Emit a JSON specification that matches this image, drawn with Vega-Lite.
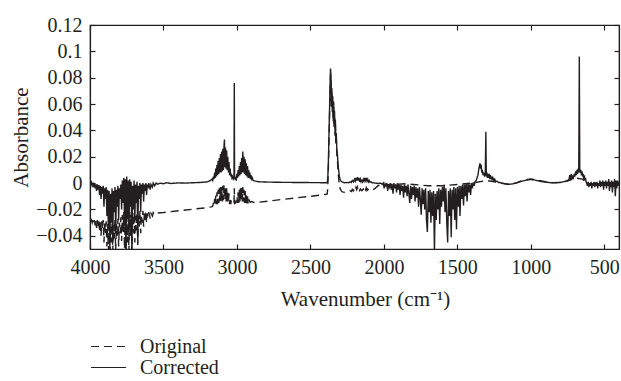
{
  "$schema": "https://vega.github.io/schema/vega-lite/v6.json",
  "width": 529,
  "height": 224,
  "autosize": {"type": "none"},
  "padding": {"left": 90, "top": 25, "right": 2, "bottom": 132},
  "background": "white",
  "config": {
    "font": "Liberation Serif",
    "view": {"stroke": "#231f20", "strokeWidth": 1.2},
    "axis": {
      "grid": false,
      "domainColor": "#231f20",
      "domainWidth": 1.2,
      "tickColor": "#231f20",
      "tickWidth": 1.2,
      "tickSize": -5,
      "labelColor": "#231f20",
      "titleColor": "#231f20",
      "labelFont": "Liberation Serif",
      "titleFont": "Liberation Serif",
      "labelFontSize": 20,
      "titleFontSize": 21,
      "titleFontWeight": "normal",
      "labelPadding": 13,
      "labelFlush": false,
      "labelOverlap": false
    }
  },
  "datasets": {
    "orig": [
      {"w":4000,"a":-0.0285},{"w":3995,"a":-0.029},{"w":3990,"a":-0.028},{"w":3985,"a":-0.03},{"w":3980,"a":-0.0282},{"w":3975,"a":-0.031},{"w":3970,"a":-0.028},{"w":3965,"a":-0.032},{"w":3960,"a":-0.0285},{"w":3955,"a":-0.034},{"w":3950,"a":-0.028},{"w":3945,"a":-0.033},{"w":3940,"a":-0.029},{"w":3935,"a":-0.037},{"w":3930,"a":-0.028},{"w":3925,"a":-0.04},{"w":3920,"a":-0.029},{"w":3915,"a":-0.035},{"w":3910,"a":-0.028},{"w":3905,"a":-0.045},{"w":3900,"a":-0.03},{"w":3895,"a":-0.038},{"w":3890,"a":-0.029},{"w":3885,"a":-0.048},{"w":3880,"a":-0.031},{"w":3875,"a":-0.052},{"w":3870,"a":-0.032},{"w":3865,"a":-0.052},{"w":3860,"a":-0.033},{"w":3855,"a":-0.045},{"w":3850,"a":-0.03},{"w":3845,"a":-0.052},{"w":3840,"a":-0.032},{"w":3835,"a":-0.042},{"w":3830,"a":-0.028},{"w":3825,"a":-0.052},{"w":3820,"a":-0.031},{"w":3815,"a":-0.04},{"w":3810,"a":-0.027},{"w":3805,"a":-0.048},{"w":3800,"a":-0.03},{"w":3795,"a":-0.038},{"w":3790,"a":-0.026},{"w":3785,"a":-0.044},{"w":3780,"a":-0.024},{"w":3775,"a":-0.037},{"w":3770,"a":-0.022},{"w":3765,"a":-0.05},{"w":3760,"a":-0.023},{"w":3755,"a":-0.052},{"w":3750,"a":-0.021},{"w":3745,"a":-0.045},{"w":3740,"a":-0.024},{"w":3735,"a":-0.052},{"w":3730,"a":-0.022},{"w":3725,"a":-0.04},{"w":3720,"a":-0.024},{"w":3715,"a":-0.052},{"w":3710,"a":-0.026},{"w":3705,"a":-0.038},{"w":3700,"a":-0.022},{"w":3695,"a":-0.045},{"w":3690,"a":-0.025},{"w":3685,"a":-0.036},{"w":3680,"a":-0.022},{"w":3675,"a":-0.047},{"w":3670,"a":-0.025},{"w":3665,"a":-0.033},{"w":3660,"a":-0.021},{"w":3655,"a":-0.038},{"w":3650,"a":-0.024},{"w":3645,"a":-0.03},{"w":3640,"a":-0.021},{"w":3635,"a":-0.033},{"w":3630,"a":-0.023},{"w":3625,"a":-0.028},{"w":3620,"a":-0.021},{"w":3615,"a":-0.03},{"w":3610,"a":-0.023},{"w":3605,"a":-0.026},{"w":3600,"a":-0.022},{"w":3590,"a":-0.027},{"w":3585,"a":-0.023},{"w":3575,"a":-0.025},{"w":3570,"a":-0.0225},{"w":3560,"a":-0.024},{"w":3550,"a":-0.0228},
      {"w":3500,"a":-0.0223},{"w":3400,"a":-0.021},{"w":3300,"a":-0.0198},{"w":3200,"a":-0.0186},
      {"w":3190,"a":-0.0183},{"w":3175,"a":-0.018},{"w":3165,"a":-0.0175},{"w":3160,"a":-0.015},{"w":3156,"a":-0.0175},{"w":3152,"a":-0.012},{"w":3148,"a":-0.017},{"w":3144,"a":-0.009},{"w":3140,"a":-0.016},{"w":3136,"a":-0.007},{"w":3132,"a":-0.016},{"w":3128,"a":-0.005},{"w":3124,"a":-0.015},{"w":3120,"a":-0.004},{"w":3116,"a":-0.014},{"w":3112,"a":-0.003},{"w":3108,"a":-0.015},{"w":3104,"a":-0.003},{"w":3100,"a":-0.014},{"w":3096,"a":-0.002},{"w":3092,"a":-0.013},{"w":3088,"a":-0.002},{"w":3085,"a":-0.001},{"w":3082,"a":-0.013},{"w":3078,"a":-0.003},{"w":3074,"a":-0.014},{"w":3070,"a":-0.004},{"w":3066,"a":-0.014},{"w":3062,"a":-0.006},{"w":3058,"a":-0.015},{"w":3054,"a":-0.008},{"w":3050,"a":-0.016},{"w":3046,"a":-0.011},{"w":3042,"a":-0.016},{"w":3038,"a":-0.013},{"w":3030,"a":-0.0155},{"w":3020,"a":-0.015},{"w":3018,"a":-0.004},{"w":3016,"a":-0.0155},{"w":3008,"a":-0.015},{"w":3000,"a":-0.01},{"w":2996,"a":-0.015},{"w":2992,"a":-0.007},{"w":2988,"a":-0.015},{"w":2984,"a":-0.005},{"w":2980,"a":-0.014},{"w":2976,"a":-0.004},{"w":2972,"a":-0.013},{"w":2968,"a":-0.003},{"w":2964,"a":-0.014},{"w":2960,"a":-0.003},{"w":2956,"a":-0.014},{"w":2952,"a":-0.005},{"w":2948,"a":-0.015},{"w":2944,"a":-0.006},{"w":2940,"a":-0.015},{"w":2936,"a":-0.008},{"w":2932,"a":-0.0155},{"w":2928,"a":-0.01},{"w":2924,"a":-0.0155},{"w":2920,"a":-0.012},{"w":2910,"a":-0.0145},{"w":2900,"a":-0.014},{"w":2880,"a":-0.0148},
      {"w":2850,"a":-0.0145},{"w":2700,"a":-0.0125},{"w":2500,"a":-0.01},{"w":2390,"a":-0.0085},
      {"w":2386,"a":-0.0083},{"w":2382,"a":-0.004},{"w":2378,"a":0.01},{"w":2374,"a":0.03},{"w":2370,"a":0.05},{"w":2366,"a":0.07},{"w":2363,"a":0.083},{"w":2360,"a":0.077},{"w":2357,"a":0.058},{"w":2354,"a":0.068},{"w":2351,"a":0.054},{"w":2348,"a":0.062},{"w":2345,"a":0.046},{"w":2342,"a":0.058},{"w":2339,"a":0.041},{"w":2336,"a":0.051},{"w":2333,"a":0.036},{"w":2330,"a":0.044},{"w":2327,"a":0.029},{"w":2324,"a":0.034},{"w":2320,"a":0.021},{"w":2316,"a":0.017},{"w":2312,"a":0.009},{"w":2308,"a":0.004},{"w":2303,"a":-0.002},{"w":2298,"a":-0.004},{"w":2292,"a":-0.0055},{"w":2285,"a":-0.0065},{"w":2275,"a":-0.0068},
      {"w":2265,"a":-0.007},{"w":2250,"a":-0.0068},{"w":2240,"a":-0.0066},{"w":2230,"a":-0.0058},{"w":2222,"a":-0.0064},{"w":2215,"a":-0.0048},{"w":2208,"a":-0.006},{"w":2200,"a":-0.004},{"w":2195,"a":-0.0055},{"w":2190,"a":-0.0033},{"w":2185,"a":-0.005},{"w":2180,"a":-0.003},{"w":2175,"a":-0.005},{"w":2170,"a":-0.0035},{"w":2165,"a":-0.0055},{"w":2160,"a":-0.0045},{"w":2150,"a":-0.0058},{"w":2140,"a":-0.0045},{"w":2135,"a":-0.0055},{"w":2130,"a":-0.0035},{"w":2125,"a":-0.005},{"w":2120,"a":-0.0035},{"w":2115,"a":-0.0055},{"w":2110,"a":-0.0045},{"w":2100,"a":-0.0058},{"w":2090,"a":-0.0058},{"w":2080,"a":-0.0055},{"w":2060,"a":-0.004},{"w":2040,"a":-0.002},{"w":2020,"a":-0.0015},{"w":2000,"a":-0.0015},{"w":1950,"a":-0.001},{"w":1900,"a":-0.0008},{"w":1850,"a":-0.0005},
      {"w":1800,"a":-0.001},{"w":1700,"a":-0.002},{"w":1600,"a":-0.002},{"w":1500,"a":-0.001},{"w":1400,"a":0},{"w":1300,"a":0.002},{"w":1200,"a":0},{"w":1150,"a":-0.0008},{"w":1100,"a":0.0002},{"w":1050,"a":0.0022},{"w":1000,"a":0.0032},{"w":950,"a":0.0022},{"w":900,"a":0.001},{"w":850,"a":0.0004},{"w":800,"a":0.0006},{"w":750,"a":0.0015},{"w":700,"a":0.004},{"w":650,"a":0.003},{"w":600,"a":-0.001},{"w":550,"a":-0.001},{"w":500,"a":-0.001},{"w":450,"a":-0.001},{"w":400,"a":0}
    ],
    "corr": [
      {"w":4000,"a":0},{"w":3995,"a":-0.001},{"w":3990,"a":0.0005},{"w":3985,"a":-0.002},{"w":3980,"a":-0.0005},{"w":3975,"a":-0.003},{"w":3970,"a":0},{"w":3965,"a":-0.004},{"w":3960,"a":-0.001},{"w":3955,"a":-0.006},{"w":3950,"a":-0.001},{"w":3945,"a":-0.005},{"w":3940,"a":-0.0015},{"w":3935,"a":-0.009},{"w":3930,"a":-0.002},{"w":3925,"a":-0.012},{"w":3920,"a":-0.003},{"w":3915,"a":-0.008},{"w":3910,"a":-0.002},{"w":3905,"a":-0.018},{"w":3900,"a":-0.004},{"w":3895,"a":-0.012},{"w":3890,"a":-0.003},{"w":3885,"a":-0.025},{"w":3880,"a":-0.005},{"w":3875,"a":-0.035},{"w":3870,"a":-0.006},{"w":3865,"a":-0.052},{"w":3860,"a":-0.008},{"w":3855,"a":-0.03},{"w":3850,"a":-0.004},{"w":3845,"a":-0.045},{"w":3840,"a":-0.006},{"w":3835,"a":-0.022},{"w":3830,"a":-0.003},{"w":3825,"a":-0.038},{"w":3820,"a":-0.005},{"w":3815,"a":-0.018},{"w":3810,"a":-0.002},{"w":3805,"a":-0.028},{"w":3800,"a":-0.004},{"w":3795,"a":-0.012},{"w":3790,"a":-0.001},{"w":3785,"a":-0.02},{"w":3780,"a":0.002},{"w":3775,"a":-0.015},{"w":3770,"a":0.004},{"w":3765,"a":-0.032},{"w":3760,"a":0.003},{"w":3755,"a":-0.052},{"w":3750,"a":0.005},{"w":3745,"a":-0.025},{"w":3740,"a":0.002},{"w":3735,"a":-0.04},{"w":3730,"a":0.003},{"w":3725,"a":-0.018},{"w":3720,"a":0.001},{"w":3715,"a":-0.052},{"w":3710,"a":-0.002},{"w":3705,"a":-0.02},{"w":3700,"a":0.002},{"w":3695,"a":-0.03},{"w":3690,"a":-0.001},{"w":3685,"a":-0.015},{"w":3680,"a":0.001},{"w":3675,"a":-0.045},{"w":3670,"a":-0.002},{"w":3665,"a":-0.012},{"w":3660,"a":0},{"w":3655,"a":-0.022},{"w":3650,"a":-0.001},{"w":3645,"a":-0.008},{"w":3640,"a":0},{"w":3635,"a":-0.014},{"w":3630,"a":-0.001},{"w":3625,"a":-0.006},{"w":3620,"a":0},{"w":3615,"a":-0.009},{"w":3610,"a":-0.001},{"w":3605,"a":-0.004},{"w":3600,"a":0},{"w":3590,"a":-0.005},{"w":3585,"a":-0.001},{"w":3575,"a":-0.003},{"w":3570,"a":0},{"w":3560,"a":-0.002},{"w":3550,"a":0},
      {"w":3540,"a":-0.0008},{"w":3520,"a":0},{"w":3500,"a":-0.0005},{"w":3480,"a":0.0003},{"w":3450,"a":-0.0003},{"w":3400,"a":0.0002},{"w":3350,"a":0},{"w":3300,"a":0.0003},{"w":3250,"a":0.0005},{"w":3200,"a":0.001},
      {"w":3190,"a":0.0015},{"w":3180,"a":0.002},{"w":3170,"a":0.003},{"w":3165,"a":0.002},{"w":3160,"a":0.005},{"w":3156,"a":0.003},{"w":3152,"a":0.008},{"w":3148,"a":0.004},{"w":3144,"a":0.011},{"w":3140,"a":0.005},{"w":3136,"a":0.014},{"w":3132,"a":0.006},{"w":3128,"a":0.017},{"w":3124,"a":0.007},{"w":3120,"a":0.019},{"w":3116,"a":0.008},{"w":3112,"a":0.022},{"w":3108,"a":0.008},{"w":3104,"a":0.024},{"w":3100,"a":0.009},{"w":3096,"a":0.026},{"w":3092,"a":0.01},{"w":3088,"a":0.028},{"w":3085,"a":0.033},{"w":3082,"a":0.012},{"w":3078,"a":0.027},{"w":3074,"a":0.011},{"w":3070,"a":0.025},{"w":3066,"a":0.01},{"w":3062,"a":0.02},{"w":3058,"a":0.008},{"w":3054,"a":0.016},{"w":3050,"a":0.006},{"w":3046,"a":0.011},{"w":3042,"a":0.005},{"w":3038,"a":0.007},{"w":3034,"a":0.004},{"w":3030,"a":0.005},{"w":3025,"a":0.003},{"w":3020,"a":0.004},{"w":3018,"a":0.076},{"w":3016,"a":0.004},{"w":3012,"a":0.003},{"w":3008,"a":0.004},{"w":3004,"a":0.003},{"w":3000,"a":0.007},{"w":2996,"a":0.004},{"w":2992,"a":0.01},{"w":2988,"a":0.005},{"w":2984,"a":0.013},{"w":2980,"a":0.006},{"w":2976,"a":0.016},{"w":2972,"a":0.007},{"w":2968,"a":0.019},{"w":2964,"a":0.008},{"w":2960,"a":0.024},{"w":2956,"a":0.008},{"w":2952,"a":0.02},{"w":2948,"a":0.007},{"w":2944,"a":0.018},{"w":2940,"a":0.006},{"w":2936,"a":0.015},{"w":2932,"a":0.005},{"w":2928,"a":0.013},{"w":2924,"a":0.004},{"w":2920,"a":0.01},{"w":2916,"a":0.004},{"w":2912,"a":0.008},{"w":2908,"a":0.003},{"w":2904,"a":0.006},{"w":2900,"a":0.003},{"w":2895,"a":0.004},{"w":2890,"a":0.002},{"w":2875,"a":0.0015},{"w":2850,"a":0.001},
      {"w":2800,"a":0.0008},{"w":2700,"a":0.0006},{"w":2600,"a":0.0005},{"w":2500,"a":0.0004},{"w":2400,"a":0.0003},{"w":2390,"a":0.0003},
      {"w":2386,"a":0.0005},{"w":2382,"a":0.003},{"w":2378,"a":0.015},{"w":2374,"a":0.035},{"w":2370,"a":0.055},{"w":2366,"a":0.075},{"w":2363,"a":0.087},{"w":2360,"a":0.08},{"w":2357,"a":0.062},{"w":2354,"a":0.072},{"w":2351,"a":0.058},{"w":2348,"a":0.066},{"w":2345,"a":0.05},{"w":2342,"a":0.062},{"w":2339,"a":0.045},{"w":2336,"a":0.055},{"w":2333,"a":0.04},{"w":2330,"a":0.048},{"w":2327,"a":0.033},{"w":2324,"a":0.038},{"w":2320,"a":0.025},{"w":2316,"a":0.022},{"w":2312,"a":0.014},{"w":2308,"a":0.01},{"w":2303,"a":0.005},{"w":2298,"a":0.003},{"w":2292,"a":0.0015},{"w":2285,"a":0.001},{"w":2275,"a":0.0005},
      {"w":2265,"a":0.0003},{"w":2250,"a":0.0005},{"w":2240,"a":0.0003},{"w":2230,"a":0.001},{"w":2222,"a":0.0005},{"w":2215,"a":0.002},{"w":2208,"a":0.001},{"w":2200,"a":0.003},{"w":2195,"a":0.0015},{"w":2190,"a":0.004},{"w":2185,"a":0.002},{"w":2180,"a":0.0045},{"w":2175,"a":0.002},{"w":2170,"a":0.004},{"w":2165,"a":0.001},{"w":2160,"a":0.003},{"w":2155,"a":0.001},{"w":2150,"a":0.002},{"w":2145,"a":0.001},{"w":2140,"a":0.003},{"w":2135,"a":0.0015},{"w":2130,"a":0.004},{"w":2125,"a":0.002},{"w":2120,"a":0.004},{"w":2115,"a":0.0015},{"w":2110,"a":0.003},{"w":2105,"a":0.001},{"w":2100,"a":0.002},{"w":2095,"a":0.0008},{"w":2088,"a":0.001},{"w":2080,"a":0.0003},{"w":2060,"a":0},{"w":2040,"a":-0.0003},{"w":2020,"a":0},
      {"w":2010,"a":-0.001},{"w":2004,"a":0},{"w":1998,"a":-0.004},{"w":1992,"a":-0.0005},{"w":1986,"a":-0.002},{"w":1980,"a":0},{"w":1974,"a":-0.006},{"w":1968,"a":-0.001},{"w":1962,"a":-0.003},{"w":1956,"a":0},{"w":1950,"a":-0.005},{"w":1944,"a":-0.001},{"w":1938,"a":-0.008},{"w":1932,"a":0},{"w":1926,"a":-0.004},{"w":1920,"a":-0.001},{"w":1914,"a":-0.007},{"w":1908,"a":0},{"w":1902,"a":-0.005},{"w":1896,"a":-0.001},{"w":1890,"a":-0.009},{"w":1884,"a":-0.001},{"w":1878,"a":-0.006},{"w":1872,"a":-0.002},{"w":1866,"a":-0.011},{"w":1860,"a":-0.001},{"w":1854,"a":-0.007},{"w":1848,"a":-0.002},{"w":1842,"a":-0.01},{"w":1836,"a":-0.001},{"w":1830,"a":-0.008},{"w":1824,"a":-0.015},{"w":1818,"a":-0.002},{"w":1812,"a":-0.012},{"w":1806,"a":-0.003},{"w":1800,"a":-0.009},{"w":1794,"a":-0.002},{"w":1788,"a":-0.014},{"w":1782,"a":-0.003},{"w":1776,"a":-0.011},{"w":1770,"a":-0.004},{"w":1764,"a":-0.018},{"w":1758,"a":-0.003},{"w":1752,"a":-0.012},{"w":1746,"a":-0.024},{"w":1740,"a":-0.004},{"w":1734,"a":-0.016},{"w":1728,"a":-0.005},{"w":1722,"a":-0.02},{"w":1716,"a":-0.004},{"w":1710,"a":-0.028},{"w":1704,"a":-0.037},{"w":1698,"a":-0.006},{"w":1692,"a":-0.022},{"w":1686,"a":-0.005},{"w":1680,"a":-0.03},{"w":1674,"a":-0.007},{"w":1668,"a":-0.025},{"w":1662,"a":-0.006},{"w":1656,"a":-0.052},{"w":1650,"a":-0.008},{"w":1644,"a":-0.028},{"w":1638,"a":-0.006},{"w":1632,"a":-0.02},{"w":1626,"a":-0.004},{"w":1620,"a":-0.031},{"w":1614,"a":-0.005},{"w":1608,"a":-0.018},{"w":1602,"a":-0.003},{"w":1596,"a":-0.014},{"w":1590,"a":-0.001},{"w":1584,"a":-0.022},{"w":1578,"a":-0.004},{"w":1572,"a":-0.03},{"w":1566,"a":-0.045},{"w":1560,"a":-0.006},{"w":1554,"a":-0.025},{"w":1548,"a":-0.004},{"w":1542,"a":-0.041},{"w":1536,"a":-0.005},{"w":1530,"a":-0.02},{"w":1524,"a":-0.003},{"w":1518,"a":-0.028},{"w":1512,"a":-0.004},{"w":1506,"a":-0.035},{"w":1500,"a":-0.003},{"w":1494,"a":-0.018},{"w":1488,"a":-0.002},{"w":1482,"a":-0.025},{"w":1476,"a":-0.002},{"w":1470,"a":-0.012},{"w":1464,"a":-0.001},{"w":1458,"a":-0.017},{"w":1452,"a":-0.001},{"w":1446,"a":-0.01},{"w":1440,"a":0},{"w":1434,"a":-0.014},{"w":1428,"a":0},{"w":1422,"a":-0.007},{"w":1416,"a":-0.001},{"w":1410,"a":-0.009},{"w":1404,"a":0},{"w":1398,"a":-0.004},{"w":1392,"a":0.0005},{"w":1386,"a":-0.002},
      {"w":1380,"a":0.001},{"w":1372,"a":0.002},{"w":1366,"a":0.004},{"w":1360,"a":0.006},{"w":1355,"a":0.01},{"w":1350,"a":0.013},{"w":1346,"a":0.015},{"w":1342,"a":0.011},{"w":1338,"a":0.014},{"w":1334,"a":0.008},{"w":1330,"a":0.01},{"w":1325,"a":0.006},{"w":1320,"a":0.008},{"w":1315,"a":0.005},{"w":1310,"a":0.007},{"w":1306,"a":0.039},{"w":1303,"a":0.005},{"w":1299,"a":0.008},{"w":1295,"a":0.004},{"w":1291,"a":0.007},{"w":1287,"a":0.004},{"w":1283,"a":0.007},{"w":1279,"a":0.003},{"w":1275,"a":0.006},{"w":1271,"a":0.003},{"w":1267,"a":0.005},{"w":1263,"a":0.002},{"w":1258,"a":0.004},{"w":1252,"a":0.002},{"w":1246,"a":0.003},{"w":1240,"a":0.001},{"w":1230,"a":0.0015},{"w":1220,"a":0.0005},{"w":1210,"a":0.0005},{"w":1200,"a":0},
      {"w":1180,"a":-0.0005},{"w":1160,"a":-0.001},{"w":1140,"a":-0.0008},{"w":1120,"a":-0.0005},{"w":1100,"a":0},{"w":1080,"a":0.0008},{"w":1060,"a":0.0015},{"w":1040,"a":0.002},{"w":1020,"a":0.0025},{"w":1000,"a":0.0027},{"w":980,"a":0.0025},{"w":960,"a":0.002},{"w":940,"a":0.0015},{"w":920,"a":0.001},{"w":900,"a":0.0008},{"w":880,"a":0.0005},{"w":860,"a":0.0003},{"w":840,"a":0.0002},{"w":820,"a":0.0003},{"w":800,"a":0.0005},{"w":780,"a":0.001},{"w":760,"a":0.0015},
      {"w":750,"a":0.002},{"w":740,"a":0.003},{"w":735,"a":0.006},{"w":730,"a":0.002},{"w":725,"a":0.007},{"w":720,"a":0.003},{"w":715,"a":0.005},{"w":710,"a":0.004},{"w":705,"a":0.007},{"w":700,"a":0.005},{"w":695,"a":0.009},{"w":690,"a":0.006},{"w":686,"a":0.01},{"w":682,"a":0.007},{"w":678,"a":0.011},{"w":674,"a":0.008},{"w":670,"a":0.096},{"w":667,"a":0.011},{"w":664,"a":0.008},{"w":660,"a":0.01},{"w":656,"a":0.006},{"w":652,"a":0.009},{"w":648,"a":0.005},{"w":644,"a":0.007},{"w":640,"a":0.003},{"w":636,"a":0.006},{"w":632,"a":0.002},{"w":628,"a":0.004},{"w":624,"a":0.001},{"w":620,"a":0},
      {"w":615,"a":-0.002},{"w":610,"a":0.001},{"w":605,"a":-0.003},{"w":600,"a":0},{"w":595,"a":-0.002},{"w":590,"a":0.001},{"w":585,"a":-0.004},{"w":580,"a":0},{"w":575,"a":-0.002},{"w":570,"a":0.001},{"w":565,"a":-0.003},{"w":560,"a":0.0005},{"w":555,"a":-0.002},{"w":550,"a":0.001},{"w":545,"a":-0.004},{"w":540,"a":0},{"w":535,"a":-0.002},{"w":530,"a":0.002},{"w":525,"a":-0.003},{"w":520,"a":0.001},{"w":515,"a":-0.002},{"w":510,"a":0.002},{"w":505,"a":-0.005},{"w":500,"a":0.001},{"w":495,"a":-0.002},{"w":490,"a":0.002},{"w":485,"a":-0.004},{"w":480,"a":0.001},{"w":475,"a":-0.002},{"w":470,"a":0.003},{"w":465,"a":-0.006},{"w":460,"a":0.001},{"w":455,"a":-0.003},{"w":450,"a":0.002},{"w":445,"a":-0.007},{"w":440,"a":0.001},{"w":435,"a":-0.003},{"w":430,"a":0.003},{"w":425,"a":-0.01},{"w":420,"a":0.002},{"w":415,"a":-0.004},{"w":410,"a":0.002},{"w":405,"a":-0.002},{"w":400,"a":0.001}
    ]
  },
  "resolve": {"axis": {"x": "independent", "y": "independent"}},
  "layer": [
    {
      "data": {"name": "orig"},
      "mark": {"type": "line", "clip": true, "strokeWidth": 1.4, "color": "#231f20"},
      "encoding": {
        "x": {"field": "w", "type": "quantitative",
              "scale": {"domain": [400, 4000], "reverse": true, "nice": false, "zero": false},
              "axis": {"orient": "bottom", "values": [4000, 3500, 3000, 2500, 2000, 1500, 1000, 500], "format": "d",
                       "title": "Wavenumber (cm⁻¹)", "titleX": 275, "titleY": 50, "titleBaseline": "middle", "titleAlign": "center"}},
        "y": {"field": "a", "type": "quantitative",
              "scale": {"domain": [-0.05, 0.12], "nice": false, "zero": false},
              "axis": {"orient": "left", "values": [-0.04, -0.02, 0, 0.02, 0.04, 0.06, 0.08, 0.1, 0.12], "format": ".2~f",
                       "title": "Absorbance", "titleX": -69, "titleY": 112, "titleBaseline": "middle", "titleAlign": "center", "titleAngle": -90}},
        "strokeDash": {"datum": "Original", "type": "nominal",
              "scale": {"domain": ["Original", "Corrected"], "range": [[8, 5], [1, 0]]},
              "legend": {"orient": "none", "legendX": 0, "legendY": 312, "title": null,
                         "symbolType": "stroke", "symbolSize": 1225, "symbolStrokeWidth": 1.2, "symbolStrokeColor": "#231f20",
                         "clipHeight": 19, "rowPadding": 0,
                         "labelFont": "Liberation Serif", "labelFontSize": 20, "labelColor": "#231f20", "labelOffset": 13}}
      }
    },
    {
      "data": {"name": "corr"},
      "mark": {"type": "line", "clip": true, "strokeWidth": 1.4, "color": "#231f20"},
      "encoding": {
        "x": {"field": "w", "type": "quantitative",
              "axis": {"orient": "top", "values": [4000, 3500, 3000, 2500, 2000, 1500, 1000, 500], "labels": false, "title": null}},
        "y": {"field": "a", "type": "quantitative",
              "axis": {"orient": "right", "values": [-0.04, -0.02, 0, 0.02, 0.04, 0.06, 0.08, 0.1, 0.12], "labels": false, "title": null}},
        "strokeDash": {"datum": "Corrected", "type": "nominal"}
      }
    }
  ]
}
